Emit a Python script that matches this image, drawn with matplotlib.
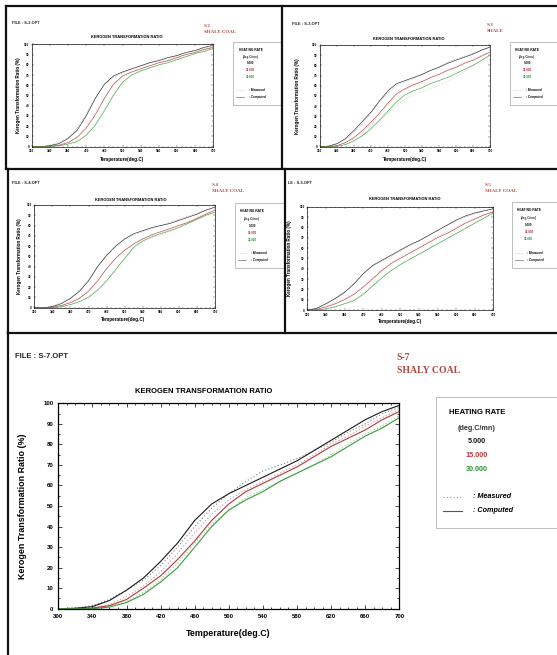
import matplotlib
matplotlib.use("Agg")
import matplotlib.pyplot as plt
from matplotlib.lines import Line2D
from matplotlib.patches import Rectangle
from matplotlib.ticker import MultipleLocator

W, H = 557, 655

temps = list(range(300, 701, 20))
xticks = list(range(300, 701, 40))
yticks = list(range(0, 101, 10))
rates = ["5.000", "15.000", "30.000"]

# S-2 shaly coal
s2_comp_5 = [0, 0, 1, 3, 8, 16, 30, 47, 61, 69, 73, 76, 79, 82, 84, 87, 89, 92, 94, 97, 99]
s2_comp_15 = [0, 0, 0.5, 1.5, 4, 9, 18, 31, 47, 61, 69, 73, 76, 79, 82, 84, 87, 90, 92, 95, 97]
s2_comp_30 = [0, 0, 0, 1, 2.5, 5, 11, 21, 35, 50, 63, 70, 74, 77, 80, 82, 85, 88, 91, 93, 96]
s2_meas_5 = [0, 0, 1.5, 4, 9, 18, 32, 48, 60, 68, 72, 76, 79, 82, 85, 87, 89, 92, 94, 96, 98]
s2_meas_15 = [0, 0, 0.8, 2, 5, 10, 20, 33, 48, 60, 68, 72, 76, 79, 82, 85, 88, 90, 93, 95, 97]
s2_meas_30 = [0, 0, 0.3, 1, 3, 6, 12, 23, 37, 51, 62, 69, 73, 77, 80, 83, 86, 88, 91, 94, 96]

# S-3 shale
s3_comp_5 = [0, 0.5, 3, 8, 16, 25, 34, 45, 55, 62, 65, 68, 71, 75, 78, 82, 85, 88, 91, 95, 98]
s3_comp_15 = [0, 0, 1, 4, 9, 16, 24, 33, 43, 52, 57, 61, 64, 68, 71, 75, 78, 82, 85, 89, 93]
s3_comp_30 = [0, 0, 0.5, 2, 6, 11, 18, 26, 35, 44, 51, 55, 58, 62, 65, 68, 72, 76, 80, 85, 90]
s3_meas_5 = [0, 1, 3, 7, 14, 23, 33, 44, 53, 60, 64, 67, 71, 75, 79, 83, 86, 89, 92, 95, 97]
s3_meas_15 = [0, 0.5, 1.5, 4, 8, 14, 22, 31, 41, 50, 56, 60, 64, 68, 72, 75, 79, 83, 86, 90, 93]
s3_meas_30 = [0, 0, 0.5, 2, 5, 10, 16, 24, 33, 41, 47, 51, 54, 57, 60, 64, 69, 74, 79, 84, 89]

# S-4 shaly coal
s4_comp_5 = [0, 0, 1, 4, 9, 16, 26, 40, 51, 60, 67, 72, 75, 78, 80, 82, 85, 88, 91, 95, 98]
s4_comp_15 = [0, 0, 0.5, 2, 5, 9, 16, 26, 38, 48, 56, 62, 67, 71, 74, 77, 80, 83, 87, 91, 95]
s4_comp_30 = [0, 0, 0, 1, 3, 6, 10, 17, 26, 37, 48, 59, 65, 69, 72, 75, 78, 82, 86, 90, 93]
s4_meas_5 = [0, 0, 1.5, 5, 10, 17, 27, 40, 50, 59, 66, 71, 74, 77, 80, 83, 86, 89, 92, 95, 97]
s4_meas_15 = [0, 0, 0.8, 2.5, 6, 10, 17, 27, 38, 48, 56, 62, 67, 70, 73, 76, 80, 84, 88, 92, 95]
s4_meas_30 = [0, 0, 0.2, 1, 3, 6, 11, 18, 27, 37, 48, 58, 64, 68, 71, 74, 78, 82, 86, 89, 92]

# S-5 shaly coal
s5_comp_5 = [0, 1.5, 6, 11, 17, 25, 35, 43, 48, 53, 58, 63, 67, 72, 77, 82, 87, 91, 94, 96, 98]
s5_comp_15 = [0, 0.5, 3, 6, 10, 15, 22, 30, 38, 45, 50, 55, 60, 65, 70, 74, 79, 84, 88, 92, 95]
s5_comp_30 = [0, 0, 1, 3, 6, 9, 15, 23, 31, 38, 44, 49, 54, 59, 64, 69, 74, 79, 84, 89, 94]
s5_meas_5 = [0, 2, 6, 11, 18, 26, 35, 42, 47, 52, 57, 62, 67, 72, 77, 82, 86, 90, 93, 96, 98]
s5_meas_15 = [0, 1, 3.5, 7, 11, 16, 23, 31, 39, 45, 51, 56, 61, 66, 71, 76, 80, 85, 89, 92, 95]
s5_meas_30 = [0, 0.3, 1.5, 3.5, 6.5, 10, 16, 24, 31, 38, 44, 49, 54, 59, 64, 69, 74, 79, 84, 89, 93]

# S-7 shaly coal
s7_comp_5 = [0, 0.2, 1, 4, 9, 15, 23, 32, 43, 51, 56, 60, 64, 68, 72, 77, 82, 87, 92, 96, 99]
s7_comp_15 = [0, 0, 0.3, 1.5, 4.5, 10, 16, 24, 33, 43, 51, 57, 61, 65, 69, 74, 79, 83, 87, 92, 96]
s7_comp_30 = [0, 0, 0, 0.8, 3, 7, 13, 20, 30, 40, 48, 53, 57, 62, 66, 70, 74, 79, 84, 88, 93]
s7_meas_5 = [0, 0.3, 1.5, 4.5, 9, 14, 21, 30, 40, 49, 56, 62, 67, 70, 73, 77, 81, 86, 90, 95, 98]
s7_meas_15 = [0, 0, 0.5, 2, 6, 11, 18, 27, 37, 46, 53, 58, 62, 66, 70, 75, 80, 84, 89, 93, 97]
s7_meas_30 = [0, 0, 0.2, 1, 3.5, 8, 14, 22, 32, 41, 48, 54, 58, 62, 66, 70, 75, 80, 85, 89, 94]

line_colors = ["#1a1a1a", "#b23a3a", "#3b9a3b"]
text_colors = ["#1a1a1a", "#b8363a", "#2f8f3a"]
tag_color = "#b0483f"
SANS = "Liberation Sans"
SERIF = "Liberation Serif"

fig = plt.figure(figsize=(W / 100, H / 100), dpi=100)
fig.patch.set_facecolor("white")


def fxy(x, y):
    return x / W, 1 - y / H


def ftext(x, y, s, **kw):
    kw.setdefault("family", SANS)
    fig.text(*fxy(x, y), s, **kw)


def border(x0, y0, x1, y1):
    (a, b), (c, d) = fxy(x0, y0), fxy(x1, y1)
    fig.add_artist(Line2D([a, c], [b, d], color="#111111", lw=1.6,
                          transform=fig.transFigure, solid_capstyle="projecting"))


def draw_panel(lay, comp, meas, f, fl):
    l, t, r, b = lay["ax"]
    ax = fig.add_axes([l / W, 1 - b / H, (r - l) / W, (b - t) / H])
    for vals, c in zip(meas, line_colors):
        ax.plot(temps, vals, color=c, lw=0.8 * f, ls=(0, (1, 2)), alpha=0.55)
    for vals, c in zip(comp, line_colors):
        ax.plot(temps, vals, color=c, lw=0.8 * f)
    ax.set_xlim(300, 700)
    ax.set_ylim(0, 100)
    ax.set_xticks(xticks)
    ax.set_yticks(yticks)
    ax.xaxis.set_minor_locator(MultipleLocator(10))
    ax.yaxis.set_minor_locator(MultipleLocator(5))
    ax.tick_params(which="both", direction="in", top=True, right=True,
                   width=0.5 * f, labelsize=4.3 * f, pad=3.5 * f)
    ax.tick_params(which="major", length=3 * f)
    ax.tick_params(which="minor", length=1.6 * f)
    for lab in ax.get_xticklabels() + ax.get_yticklabels():
        lab.set_fontweight("bold")
        lab.set_family(SANS)
    for sp in ax.spines.values():
        sp.set_linewidth(0.9 * f)

    ftext(lay["file"][0], lay["file"][1], lay["file"][2], fontsize=5.5 * f,
          weight="bold", va="center", color="#222222")
    tx, ty1, ty2, s1, s2 = lay["tag"]
    ftext(tx, ty1, s1, fontsize=7 * f, family=SERIF, weight="bold",
          color=tag_color, va="center")
    ftext(tx, ty2, s2, fontsize=7 * f, family=SERIF, weight="bold",
          color=tag_color, va="center")
    ftext(lay["title"][0], lay["title"][1], "KEROGEN TRANSFORMATION RATIO",
          fontsize=5.5 * f, weight="bold", ha="center", va="center")
    ftext(lay["xlabel"][0], lay["xlabel"][1], "Temperature(deg.C)",
          fontsize=6.4 * f, weight="bold", ha="center", va="center")
    ftext(lay["ylabel"], (t + b) / 2, "Kerogen Transformation Ratio (%)",
          fontsize=6.4 * f, weight="bold", ha="center", va="center", rotation=90)

    # legend box, cut off by the panel frame on its right
    x0, top, bot, x1 = lay["leg"]
    bx, by = fxy(x0, bot)
    fig.add_artist(Rectangle((bx, by), (x1 - x0) / W, (bot - top) / H,
                             transform=fig.transFigure, fill=False,
                             ec="#bdbdbd", lw=0.7))
    sy = (bot - top) / 131.0
    offs = [16.3, 31.3, 45, 59, 73, 100, 114.3]
    ys = [top + o * sy for o in offs]
    cx = x0 + 41 * fl
    ftext(cx, ys[0], "HEATING RATE", fontsize=5.6 * fl, weight="bold",
          ha="center", va="center")
    ftext(cx, ys[1], "(deg.C/mn)", fontsize=5.2 * fl, weight="bold",
          ha="center", va="center", color="#333333")
    for i in range(3):
        ftext(cx, ys[2 + i], rates[i], fontsize=5.2 * fl, weight="bold",
              ha="center", va="center", color=text_colors[i])
    a, yy = fxy(x0 + 7 * fl, ys[5])
    c, _ = fxy(x0 + 26 * fl, ys[5])
    fig.add_artist(Line2D([a, c], [yy, yy], color="#999999", lw=0.8 * f,
                          ls=(0, (1, 2)), transform=fig.transFigure))
    a, yy = fxy(x0 + 7 * fl, ys[6])
    fig.add_artist(Line2D([a, c], [yy, yy], color="#555555", lw=0.8 * f,
                          transform=fig.transFigure))
    ftext(x0 + 37.3 * fl, ys[5], ": Measured", fontsize=5.2 * fl,
          weight="bold", style="italic", va="center")
    ftext(x0 + 37.3 * fl, ys[6], ": Computed", fontsize=5.2 * fl,
          weight="bold", style="italic", va="center")
    return ax


layouts = {
    "S-2": dict(ax=(31.7, 44.3, 213.3, 146.7), file=(11.7, 23.3, "FILE : S-2.OPT"),
                tag=(204, 25.7, 32.3, "S-2", "SHALY COAL"), title=(126.7, 37.3),
                leg=(233.3, 41.7, 105, 282), xlabel=(122.5, 159), ylabel=19),
    "S-3": dict(ax=(320, 45, 490, 146.7), file=(292.3, 24.3, "FILE : S-3.OPT"),
                tag=(486.7, 25, 31.5, "S-3", "SHALE"), title=(408.3, 39),
                leg=(510, 41.7, 105, 562), xlabel=(405, 159), ylabel=297.7),
    "S-4": dict(ax=(34.3, 205, 215, 307.7), file=(11.7, 183.3, "FILE : S-4.OPT"),
                tag=(212, 185, 190.7, "S-4", "SHALY COAL"), title=(130.7, 200),
                leg=(235, 203.3, 268.3, 285), xlabel=(123, 320), ylabel=20),
    "S-5": dict(ax=(307.3, 206.7, 493.3, 310), file=(288.3, 183.3, "LE : S-5.OPT"),
                tag=(485, 185, 190.7, "S-5", "SHALY COAL"), title=(405, 199),
                leg=(511.7, 201.7, 268.3, 562), xlabel=(400, 321.7), ylabel=290),
    "S-7": dict(ax=(58.3, 403.3, 399.3, 608.7), file=(14.7, 357, "FILE : S-7.OPT"),
                tag=(396.7, 357, 370, "S-7", "SHALY COAL"), title=(204, 391.7),
                leg=(435.7, 396.7, 527.7, 562), xlabel=(228, 633), ylabel=22.7),
}

draw_panel(layouts["S-2"], [s2_comp_5, s2_comp_15, s2_comp_30],
           [s2_meas_5, s2_meas_15, s2_meas_30], 0.52, 0.42)
draw_panel(layouts["S-3"], [s3_comp_5, s3_comp_15, s3_comp_30],
           [s3_meas_5, s3_meas_15, s3_meas_30], 0.52, 0.42)
draw_panel(layouts["S-4"], [s4_comp_5, s4_comp_15, s4_comp_30],
           [s4_meas_5, s4_meas_15, s4_meas_30], 0.52, 0.42)
draw_panel(layouts["S-5"], [s5_comp_5, s5_comp_15, s5_comp_30],
           [s5_meas_5, s5_meas_15, s5_meas_30], 0.52, 0.42)
draw_panel(layouts["S-7"], [s7_comp_5, s7_comp_15, s7_comp_30],
           [s7_meas_5, s7_meas_15, s7_meas_30], 1.0, 1.0)

# panel frames
border(6, 6, 557, 6)
border(6, 6, 6, 168)
border(282, 6, 282, 168)
border(6, 168.5, 557, 168.5)
border(7.5, 168.5, 7.5, 333)
border(285, 168.5, 285, 333)
border(7.5, 333, 557, 333)
border(8, 333, 8, 655)

fig.savefig("out.png", dpi=100, facecolor="white")
